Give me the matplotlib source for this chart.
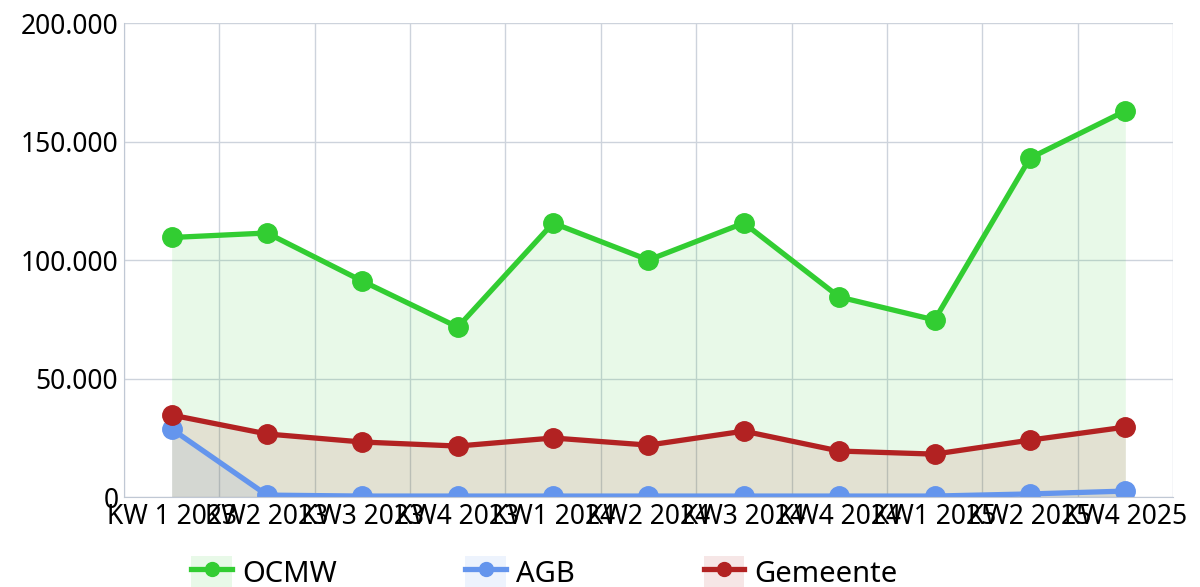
"""Quarterly amounts per entity."""

import numpy as np
import matplotlib.pyplot as plt
from matplotlib.lines import Line2D
from matplotlib.patches import Patch
from matplotlib.ticker import FuncFormatter, MultipleLocator

plt.rcParams['font.family'] = ['Noto Sans', 'DejaVu Sans']

labels = ["KW 1 2023", "KW2 2023", "KW3 2023", "KW4 2023", "KW1 2024", "KW2 2024",
          "KW3 2024", "KW4 2024", "KW1 2025", "KW2 2025", "KW4 2025"]
ocmw = [109500, 111400, 91100, 71700, 115600, 100000, 115600, 84400, 74700, 143000, 162900]
agb = [28700, 800, 400, 400, 400, 400, 400, 400, 400, 1300, 2500]
gemeente = [34600, 26600, 23200, 21500, 24900, 21900, 27800, 19400, 18100, 24000, 29500]

series = [("OCMW", ocmw, "#32cd32"), ("AGB", agb, "#6495ed"), ("Gemeente", gemeente, "#b22222")]

fig = plt.figure(figsize=(12, 5.87), dpi=100)
ax = fig.add_axes([0.1033, 0.1533, 0.8742, 0.8075])

x = np.arange(len(labels))
handles = []
for name, vals, col in series:
    ax.fill_between(x, 0, vals, color=col, alpha=0.11, linewidth=0)
    ax.plot(x, vals, color=col, linewidth=3.8, marker='o', markersize=14, label=name)
    handles.append((Patch(facecolor=col, alpha=0.11, edgecolor='none'),
                    Line2D([], [], color=col, linewidth=3.8, marker='o', markersize=10)))

ax.set_xlim(-0.5, len(labels) - 0.5)
ax.set_ylim(0, 200000)
ax.set_xticks(x)
ax.set_xticklabels(labels)
ax.set_xticks(np.arange(-0.5, len(labels)), minor=True)
ax.yaxis.set_major_locator(MultipleLocator(50000))
ax.yaxis.set_major_formatter(FuncFormatter(lambda v, p: f"{int(v):,}".replace(",", ".")))
ax.tick_params(axis='both', labelsize=19, length=0, pad=4)
ax.tick_params(axis='x', which='minor', length=0)
ax.grid(axis='y', which='major', color='#cdd3dc', linewidth=1)
ax.grid(axis='x', which='minor', color='#cdd3dc', linewidth=1)
for side in ['top', 'right']:
    ax.spines[side].set_visible(False)
for side in ['left', 'bottom']:
    ax.spines[side].set_color('#c0c8d4')
ax.set_axisbelow(True)

fig.legend(handles, [s[0] for s in series], ncol=3, loc='center left',
           bbox_to_anchor=(0.1375, 0.025), frameon=False, fontsize=21,
           handlelength=1.4, handleheight=1.3, columnspacing=4.4, handletextpad=0.35)

plt.savefig("out.png", dpi=100)
